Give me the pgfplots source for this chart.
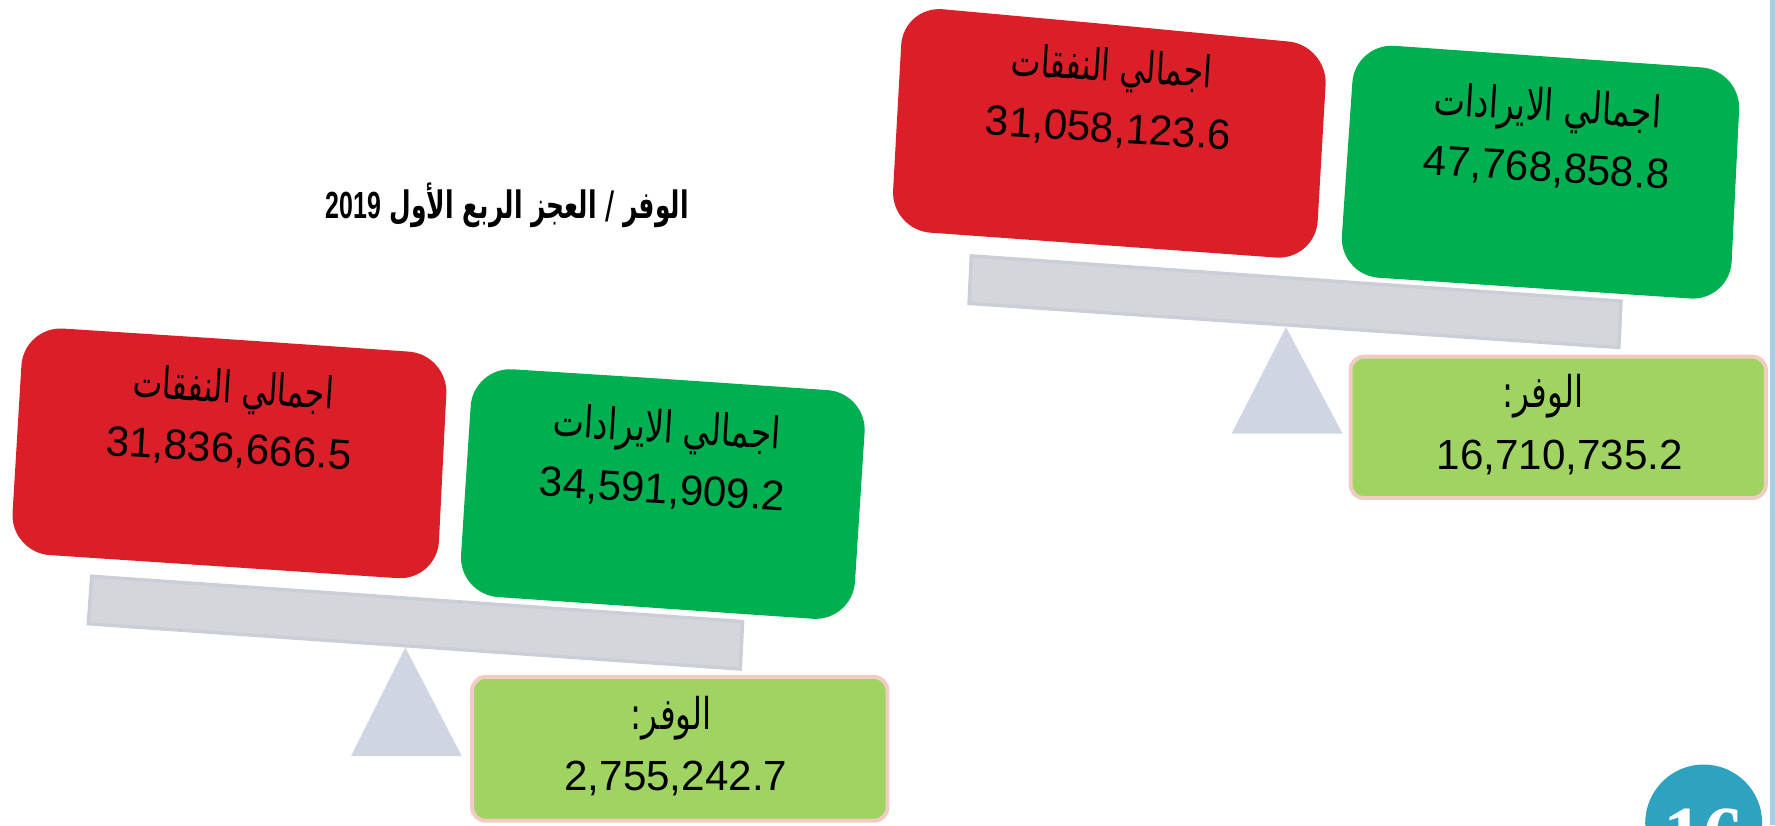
\documentclass[border=0pt]{standalone}
\usepackage{pgfplots}
\pgfplotsset{compat=1.18}
\usepackage{fontspec}
\setmainfont{Liberation Sans}
\newfontfamily\arabicfont[Script=Arabic]{DejaVu Sans}
\newfontfamily\serifb{Liberation Serif}
\TeXXeTstate=1
\definecolor{cred}{HTML}{DA1F28}
\definecolor{cgreen}{HTML}{00AF50}
\definecolor{clight}{HTML}{A0D462}
\definecolor{cpink}{HTML}{F2CCC4}
\definecolor{cbeam}{HTML}{D4D6DB}
\definecolor{cbeamb}{HTML}{CACED6}
\definecolor{ctri}{HTML}{CFD5E2}
\definecolor{cline}{HTML}{A9CDE1}
\definecolor{ccirc}{HTML}{2EA3C1}
\newcommand{\arhead}[1]{\arabicfont\fontsize{11}{13}\selectfont\beginR #1\endR}
\newcommand{\num}[1]{\fontsize{10.6}{13}\selectfont #1}
\begin{document}
\begin{tikzpicture}
\useasboundingbox (0,0) rectangle (15.68cm,7.29cm);
\begin{axis}[scale only axis, width=15.68cm, height=7.29cm,
  xmin=0, xmax=1568, ymin=0, ymax=729, y dir=reverse,
  axis lines=none, ticks=none, clip=true]
% ---------- right scale ----------
\addplot[draw=cbeamb, fill=cbeam, line width=0.3mm] coordinates {(858,226) (1432,266) (1430,307) (856,268)} -- cycle;
\addplot[draw=none, fill=ctri] coordinates {(1136,289) (1186,383) (1088,383)} -- cycle;
\addplot[draw=none, fill=cred, rounded corners=0.35cm] coordinates {(985,22) (1173,40) (1162,230) (787,203) (798,5)} -- cycle;
\addplot[draw=none, fill=cgreen, rounded corners=0.35cm] coordinates {(1367,50) (1538,62) (1528,266) (1183,243) (1197,38)} -- cycle;
\addplot[draw=cpink, fill=clight, line width=0.35mm, rounded corners=0.12cm] coordinates {(1376,315) (1560,315) (1560,440) (1193,440) (1193,315)} -- cycle;
% ---------- left scale ----------
\addplot[draw=cbeamb, fill=cbeam, line width=0.3mm] coordinates {(81,509) (656,549) (654,591) (78,551)} -- cycle;
\addplot[draw=none, fill=ctri] coordinates {(358,572) (408,668) (310,668)} -- cycle;
\addplot[draw=none, fill=cred, rounded corners=0.35cm] coordinates {(208,300) (396,313) (386,513) (9,488) (21,288)} -- cycle;
\addplot[draw=none, fill=cgreen, rounded corners=0.35cm] coordinates {(592,335) (766,347) (753,549) (405,525) (418,324)} -- cycle;
\addplot[draw=cpink, fill=clight, line width=0.35mm, rounded corners=0.12cm] coordinates {(600,598) (784,598) (784,725) (417,725) (417,598)} -- cycle;
% ---------- page decorations ----------
\addplot[draw=cline, line width=0.45mm] coordinates {(1566,0) (1566,729)};
\addplot[only marks, mark=*, mark size=14.5pt, mark options={draw=ccirc, fill=ccirc},
  nodes near coords={\serifb\bfseries\fontsize{20}{22}\selectfont 16},
  every node near coord/.append style={text=white, anchor=center, yshift=-1.1mm}] coordinates {(1505,727)};
% ---------- texts ----------
\node[xscale=0.66] at (axis cs:448,181) {\arabicfont\bfseries\fontsize{9.5}{11}\selectfont\beginR الوفر / العجز الربع  الأول \beginL\fontspec{Liberation Sans}\bfseries 2019\endL{}\endR};
% right
\node[rotate=-3.5, xscale=0.72] at (axis cs:982,62) {\arhead{اجمالي النفقات}};
\node[rotate=-3.5] at (axis cs:979,115) {\num{31,058,123.6}};
\node[rotate=-3.5, xscale=0.76] at (axis cs:1367,97) {\arhead{اجمالي الايرادات}};
\node[rotate=-3.5] at (axis cs:1366,150) {\num{47,768,858.8}};
\node[xscale=0.75] at (axis cs:1363,350) {\arhead{الوفر:}};
\node at (axis cs:1378,404) {\num{16,710,735.2}};
% left
\node[rotate=-3.5, xscale=0.72] at (axis cs:206,346) {\arhead{اجمالي النفقات}};
\node[rotate=-3.5] at (axis cs:202,398) {\num{31,836,666.5}};
\node[rotate=-3.5, xscale=0.76] at (axis cs:589,381) {\arhead{اجمالي الايرادات}};
\node[rotate=-3.5] at (axis cs:585,434) {\num{34,591,909.2}};
\node[xscale=0.75] at (axis cs:593,634) {\arhead{الوفر:}};
\node at (axis cs:597,688) {\num{2,755,242.7}};
\end{axis}
\end{tikzpicture}
\end{document}
